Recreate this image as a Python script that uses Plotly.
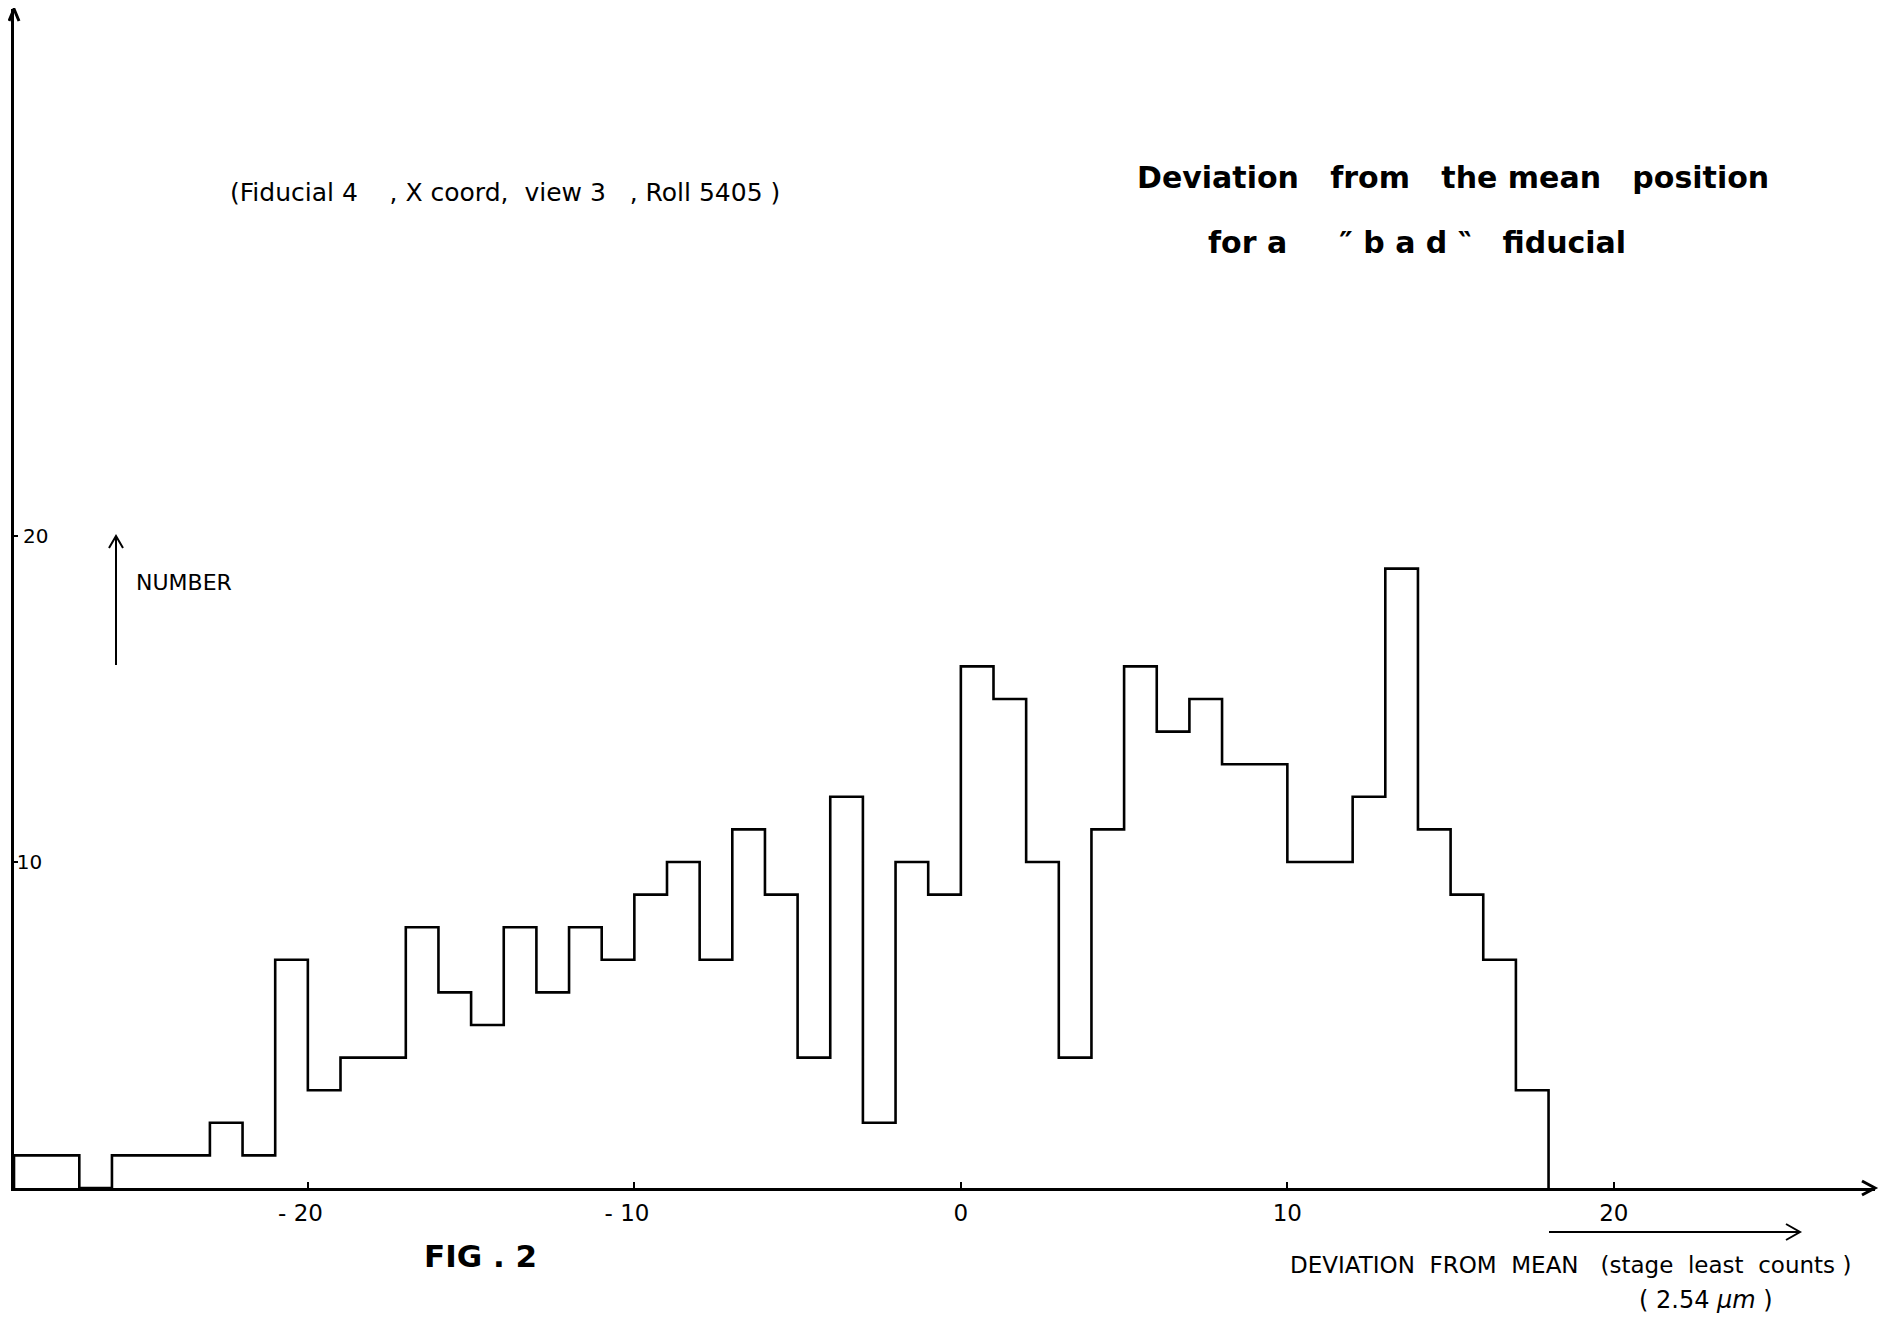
import plotly.graph_objects as go

# ---------------- data ----------------
bin_left = list(range(-29, 18))          # left edge of each 1-unit bin
counts = [1, 1, 0, 1, 1, 1, 2, 1,
          7, 3, 4, 4, 8, 6, 5, 8, 6, 8, 7,
          9, 10, 7, 11, 9, 4, 12, 2, 10, 9,
          16, 15, 10, 4, 11, 16, 14, 15, 13, 13,
          10, 10, 12, 19, 11, 9, 7, 3]
bin_width = 1
x_tick_vals = [-20, -10, 0, 10, 20]
x_tick_text = ["- 20\u00a0\u00a0", "- 10\u00a0\u00a0", "0", "10", "20"]
y_tick_vals = [10, 20]
y_tick_text = ["10", "\u00a020"]

# ---------------- page geometry (page pixels) ----------------
PAGE_W, PAGE_H = 1887, 1322
OFF = 8                      # default body margin of the html page
W, H = PAGE_W - 2 * OFF, PAGE_H - 2 * OFF
PL, PR, PT, PB = 14, 1875, 9, 1188   # plot area edges on the page
PW, PH = PR - PL, PB - PT
UX, UY = 32.65, 32.6         # pixels per data unit
x0 = bin_left[0]
x_range = [x0, x0 + PW / UX]
y_range = [0, PH / UY]


def px(xp):
    return (xp - PL) / PW


def py(yp):
    return (PB - yp) / PH


# step outline of the histogram
last = bin_left[-1] + bin_width
xs = [bin_left[0]] + bin_left + [last, last]
ys = [0] + counts + [counts[-1], 0]

FONT = "DejaVu Sans"
NB = "\u00a0"

fig = go.Figure()
fig.add_trace(go.Scatter(x=xs, y=ys, mode="lines", line_shape="hv",
                         line=dict(color="black", width=2.6),
                         hoverinfo="skip", showlegend=False))

shapes = []


def chevron(points, width):
    path = "M " + " L ".join(f"{px(a)},{py(b)}" for a, b in points)
    shapes.append(dict(type="path", path=path, xref="paper", yref="paper",
                       line=dict(color="black", width=width)))


def seg(a, b, c, d, width):
    shapes.append(dict(type="line", xref="paper", yref="paper",
                       x0=px(a), y0=py(b), x1=px(c), y1=py(d),
                       line=dict(color="black", width=width)))


# axis arrowheads
chevron([(1862, 1181), (1875, 1188), (1862, 1195)], 3)
chevron([(9, 21), (14, 9), (19, 21)], 3)
# NUMBER arrow
seg(116, 665, 116, 536, 2)
chevron([(109, 548), (116, 536), (123, 548)], 2)
# x-label arrow
seg(1549, 1232, 1800, 1232, 2)
chevron([(1786, 1224), (1800, 1232), (1786, 1240)], 2)

ann = []


def text(s, xc, yc, size, bold=False, anchor="center"):
    ann.append(dict(text=(f"<b>{s}</b>" if bold else s), x=px(xc), y=py(yc),
                    xref="paper", yref="paper", showarrow=False,
                    xanchor=anchor, yanchor="middle",
                    font=dict(family=FONT, size=size, color="black")))


text(f"(Fiducial{NB}4{NB}{NB}{NB}{NB},{NB}X{NB}coord,{NB}{NB}view{NB}3{NB}{NB}{NB},{NB}Roll{NB}5405{NB})",
     505, 193, 25)
text(f"Deviation{NB}{NB}{NB}from{NB}{NB}{NB}the{NB}mean{NB}{NB}{NB}position",
     1453, 177, 30, bold=True)
text(f"for{NB}a{NB}{NB}{NB}{NB}{NB}″{NB}b{NB}a{NB}d{NB}‶{NB}{NB}{NB}fiducial",
     1417, 242, 30, bold=True)
text("NUMBER", 134, 582, 22, anchor="left")
text("FIG . 2", 480, 1256, 31, bold=True)
text(f"DEVIATION{NB}{NB}FROM{NB}{NB}MEAN{NB}{NB}{NB}(stage{NB}{NB}least{NB}{NB}counts{NB})",
     1570, 1265, 23)
text(f"({NB}2.54{NB}<i>μm</i>{NB})", 1706, 1300, 24)

fig.update_layout(
    width=W, height=H,
    margin=dict(l=PL - OFF, r=(PAGE_W - OFF) - PR, t=PT - OFF,
                b=(PAGE_H - OFF) - PB, pad=0),
    paper_bgcolor="white", plot_bgcolor="white",
    shapes=shapes, annotations=ann,
    xaxis=dict(range=x_range, showgrid=False, zeroline=False, showline=True,
               linecolor="black", linewidth=2.5, ticks="inside", ticklen=6,
               tickwidth=2, tickcolor="black", tickvals=x_tick_vals,
               ticktext=x_tick_text, ticklabelstandoff=3,
               tickfont=dict(family=FONT, size=23, color="black")),
    yaxis=dict(range=y_range, showgrid=False, zeroline=False, showline=True,
               linecolor="black", linewidth=2.5, ticks="inside", ticklen=4,
               tickwidth=2, tickcolor="black", tickvals=y_tick_vals,
               ticktext=y_tick_text, ticklabelposition="inside",
               tickfont=dict(family=FONT, size=20, color="black")),
)

fig.write_html("out.html")
